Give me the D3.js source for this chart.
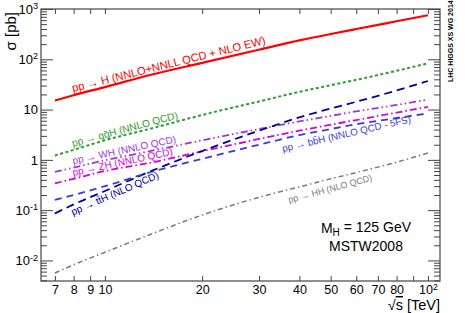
<!DOCTYPE html>
<html>
<head>
<meta charset="utf-8">
<script src="https://cdn.jsdelivr.net/npm/d3@7"></script>
<style>
body { margin: 0; background: #fff; }
svg { display: block; font-family: 'Liberation Sans', Arial, Helvetica, sans-serif; }
</style>
</head>
<body>
<svg id="chart" width="465" height="313"></svg>
<script>

// sqrt(s) in TeV, cross sections in pb
var energies = [7, 8, 10, 14, 20, 30, 40, 50, 60, 80, 100];
var ggH = [15.1, 19.3, 28.0, 49.9, 85, 155, 237, 318, 400, 570, 750];
var vbfH = [1.22, 1.58, 2.45, 4.25, 7.8, 14.5, 22.5, 30.5, 39, 59, 83];
var wH = [0.577, 0.703, 0.98, 1.52, 2.45, 4.1, 5.8, 7.5, 9.2, 12.4, 15.7];
var zH = [0.34, 0.42, 0.60, 0.89, 1.48, 2.6, 3.8, 5.0, 6.2, 8.7, 11.3];
var ttH = [0.086, 0.13, 0.24, 0.61, 1.5, 3.8, 7.0, 10.5, 14.3, 24, 37];
var bbH = [0.16, 0.20, 0.30, 0.58, 1.05, 2.0, 3.1, 4.1, 5.1, 6.8, 8.4];
var hhH = [0.0056, 0.0082, 0.0145, 0.034, 0.08, 0.18, 0.29, 0.42, 0.56, 0.9, 1.37];

var xTicks = [7, 8, 9, 10, 20, 30, 40, 50, 60, 70, 80, 90, 100];
var xLabels = ['7', '8', '9', '10', '20', '30', '40', '50', '60', '70', '80', '', '10^2'];
var yTicks = [0.01, 0.1, 1, 10, 100, 1000];
var yLabels = ['10^-2', '10^-1', '1', '10', '10^2', '10^3'];

var series = [
	{ values: ggH, color: '#ff0000', width: 2.2, dash: null, label: 'pp \u2192 H (NNLO+NNLL QCD + NLO EW)', at: [7.96, 22.4], angle: -14, size: 11.2 },
	{ values: vbfH, color: '#2f9a2f', width: 2, dash: '3 2.5', label: 'pp \u2192 qq\u0304H (NNLO QCD)', at: [7.96, 1.83], angle: -15, size: 10.2 },
	{ values: wH, color: '#a035dc', width: 1.8, dash: '7 3 1.5 3 1.5 3', label: 'pp \u2192 WH (NNLO QCD)', at: [7.98, 0.817], angle: -12, size: 10 },
	{ values: zH, color: '#d800d8', width: 1.8, dash: '7 3 1.5 3', label: 'pp \u2192 ZH (NNLO QCD)', at: [7.98, 0.479], angle: -12, size: 10 },
	{ values: ttH, color: '#000096', width: 1.8, dash: '8 5', label: 'pp \u2192 tt\u0304H (NLO QCD)', at: [7.96, 0.0785], angle: -23.5, size: 10 },
	{ values: bbH, color: '#3a3ad6', width: 1.8, dash: '7 5', label: 'pp \u2192 bb\u0304H (NNLO QCD - 5FS)', at: [35.6, 1.44], angle: -13, size: 9.8 },
	{ values: hhH, color: '#7a7a7a', width: 1.5, dash: '5 3 1.5 3', label: 'pp \u2192 HH (NLO QCD)', at: [37.2, 0.139], angle: -15, size: 9 }
];

var W = 465, H = 313;
var padL = 41, padR = 440, padT = 9, padB = 281;

var svg = d3.select('#chart');
svg.append('rect').attr('width', W).attr('height', H).style('fill', '#fff');

var x = d3.scaleLog().domain([6.34, 109]).range([padL, padR]);
var y = d3.scaleLog().domain([0.0039, 1000]).range([padB, padT]);

function powLabel(sel, str, size) {
	sel.text(null);
	var parts = str.split('^');
	sel.append('tspan').text(parts[0]);
	if (parts.length > 1)
		sel.append('tspan').attr('dy', '-0.5em').style('font-size', (size * 0.7) + 'px').text(parts[1]);
}

var yMinor = [];
[-3, -2, -1, 0, 1, 2].forEach(function(e) {
	for (var i = 2; i < 10; i++) {
		var v = i * Math.pow(10, e);
		if (v > 0.0039 && v < 1000)
			yMinor.push(v);
	}
});

// minor y ticks (left + right)
svg.append('g').attr('transform', 'translate(' + padL + ',0)')
	.call(d3.axisLeft(y).tickValues(yMinor).tickSize(-6).tickFormat(''));
svg.append('g').attr('transform', 'translate(' + padR + ',0)')
	.call(d3.axisRight(y).tickValues(yMinor).tickSize(-6).tickFormat(''));

// major y ticks
var gy = svg.append('g').attr('transform', 'translate(' + padL + ',0)')
	.call(d3.axisLeft(y).tickValues(yTicks).tickSize(-12).tickPadding(3).tickFormat(function(d, i) { return yLabels[i]; }));
gy.selectAll('text').style('font-size', '13px').style('fill', '#000').each(function(d, i) { powLabel(d3.select(this), yLabels[i], 13); });
svg.append('g').attr('transform', 'translate(' + padR + ',0)')
	.call(d3.axisRight(y).tickValues(yTicks).tickSize(-12).tickFormat(''));

// x ticks
var gx = svg.append('g').attr('transform', 'translate(0,' + padB + ')')
	.call(d3.axisBottom(x).tickValues(xTicks).tickSize(-5).tickPadding(4).tickFormat(function(d, i) { return xLabels[i]; }));
gx.selectAll('text').style('font-size', '12.5px').style('fill', '#000').each(function(d, i) { powLabel(d3.select(this), xLabels[i], 12.5); });
svg.append('g').attr('transform', 'translate(0,' + padT + ')')
	.call(d3.axisTop(x).tickValues(xTicks).tickSize(-5).tickFormat(''));

svg.selectAll('.domain').remove();
svg.selectAll('.tick line').style('stroke', '#444').style('stroke-width', 1);

// frame
svg.append('rect').attr('x', padL).attr('y', padT).attr('width', padR - padL).attr('height', padB - padT)
	.style('fill', 'none').style('stroke', '#444').style('stroke-width', 1.2);

// curves
var line = d3.line()
	.x(function(d, i) { return x(energies[i]); })
	.y(function(d) { return y(d); })
	.curve(d3.curveMonotoneX);

series.forEach(function(s) {
	svg.append('path').datum(s.values).attr('d', line)
		.style('fill', 'none').style('stroke', s.color).style('stroke-width', s.width)
		.style('stroke-dasharray', s.dash);
});

// labels along the curves
series.forEach(function(s) {
	svg.append('text')
		.attr('transform', 'translate(' + x(s.at[0]) + ',' + y(s.at[1]) + ') rotate(' + s.angle + ')')
		.style('font-size', s.size + 'px').style('fill', s.color)
		.text(s.label);
});

// y title
svg.append('text').attr('transform', 'translate(16,12) rotate(-90)').attr('text-anchor', 'end')
	.style('font-size', '15px').text('\u03c3 [pb]');

// x title
var xt = svg.append('text').attr('x', padR).attr('y', 310).attr('text-anchor', 'end').style('font-size', '14.5px');
xt.append('tspan').text('\u221a');
xt.append('tspan').style('text-decoration', 'overline').text('s');
xt.append('tspan').text(' [TeV]');

// annotations
var mh = svg.append('text').attr('x', 366).attr('y', 233).attr('text-anchor', 'middle').style('font-size', '14px');
mh.append('tspan').text('M');
mh.append('tspan').attr('dy', '0.3em').style('font-size', '10px').text('H');
mh.append('tspan').attr('dy', '-0.3em').text(' = 125 GeV');
svg.append('text').attr('x', 366).attr('y', 251).attr('text-anchor', 'middle').style('font-size', '14px').text('MSTW2008');

svg.append('text').attr('transform', 'translate(453,82) rotate(-90)')
	.style('font-size', '7px').style('font-weight', 'bold').text('LHC HIGGS XS WG 2014');

</script>
</body>
</html>
